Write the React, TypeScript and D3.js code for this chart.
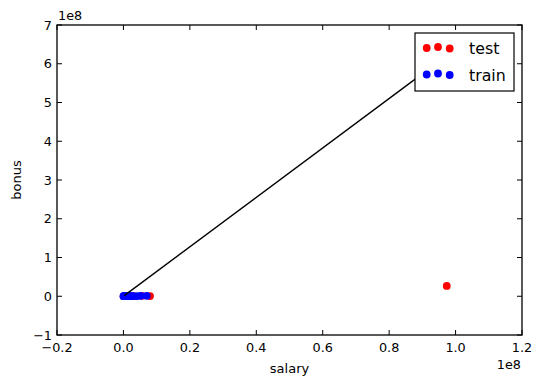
import React from "react";
import * as d3 from "d3";

const testX = [8000000, 5600000, 3100000, 1500000, 1000000, 800000, 600000, 400000, 250000, 97343619];
const testY = [339288, 1111258, 420636, 267102, 314288, 248546, 262788, 221003, 206121, 26704229];
const trainX = [7000000, 5249999, 4175000, 3000000, 2600000, 2000000, 1750000, 1200000, 900000, 700000, 500000, 300000, 100000, 0];
const trainY = [1072321, 1060932, 415189, 510364, 440698, 365163, 357091, 288542, 248017, 239671, 213999, 187922, 170941, 158403];
const regSlope = 6.38;
const regIntercept = 0;
const xTicks = [-0.2, 0.0, 0.2, 0.4, 0.6, 0.8, 1.0, 1.2];
const yTicks = [-1, 0, 1, 2, 3, 4, 5, 6, 7];
const legendLabels = ["test", "train"];
const legendColors = ["#ff0000", "#0000ff"];

const W = 543, H = 385;
const L = 57, R = 522, T = 25, B = 335;
const font = "DejaVu Sans, sans-serif";

export default function App() {
  const x = d3.scaleLinear().domain([-0.2e8, 1.2e8]).range([L, R]);
  const y = d3.scaleLinear().domain([-1e8, 7e8]).range([B, T]);
  const xs = d3.extent(testX) as [number, number];
  const line = d3.line<number>().x((v) => x(v)).y((v) => y(regSlope * v + regIntercept));
  const tl = 5;
  const lx = 415, ly = 33, lw = 99, lh = 58;
  const dotOffsets = [[426.7, 0.4], [438, 0.0], [449.7, 0.6]];
  return (
    <svg width={W} height={H} style={{ position: "absolute", left: 0, top: 0 }}>
      <rect x={0} y={0} width={W} height={H} fill="white" />
      {testX.map((v, i) => (
        <circle key={"te" + i} cx={x(v)} cy={y(testY[i])} r={3.9} fill="#ff0000" />
      ))}
      {trainX.map((v, i) => (
        <circle key={"tr" + i} cx={x(v)} cy={y(trainY[i])} r={3.9} fill="#0000ff" />
      ))}
      <path d={line(xs) || ""} stroke="black" strokeWidth={1.4} fill="none" />
      {xTicks.map((t) => (
        <g key={"x" + t}>
          <line x1={x(t * 1e8)} x2={x(t * 1e8)} y1={B} y2={B - tl} stroke="black" />
          <line x1={x(t * 1e8)} x2={x(t * 1e8)} y1={T} y2={T + tl} stroke="black" />
          <text x={x(t * 1e8)} y={352} textAnchor="middle" fontSize={12.8} fontFamily={font}>
            {t < 0 ? "\u2212" + Math.abs(t).toFixed(1) : t.toFixed(1)}
          </text>
        </g>
      ))}
      {yTicks.map((t) => (
        <g key={"y" + t}>
          <line x1={L} x2={L + tl} y1={y(t * 1e8)} y2={y(t * 1e8)} stroke="black" />
          <line x1={R} x2={R - tl} y1={y(t * 1e8)} y2={y(t * 1e8)} stroke="black" />
          <text x={52} y={y(t * 1e8)} dy="0.36em" textAnchor="end" fontSize={12.8} fontFamily={font}>
            {t < 0 ? "\u2212" + Math.abs(t) : String(t)}
          </text>
        </g>
      ))}
      <rect x={L} y={T} width={R - L} height={B - T} fill="none" stroke="black" strokeWidth={1.3} />
      <text x={58} y={20} fontSize={12.8} fontFamily={font}>1e8</text>
      <text x={521} y={369} textAnchor="end" fontSize={12.8} fontFamily={font}>1e8</text>
      <text x={(L + R) / 2} y={373} textAnchor="middle" fontSize={13} fontFamily={font}>salary</text>
      <text transform={`translate(21,${(T + B) / 2}) rotate(-90)`} textAnchor="middle" fontSize={13} fontFamily={font}>bonus</text>
      <rect x={lx} y={ly} width={lw} height={lh} fill="white" stroke="black" strokeWidth={1.2} />
      {legendLabels.map((lab, i) => (
        <g key={lab}>
          {dotOffsets.map(([dx, dy], j) => (
            <circle key={j} cx={dx} cy={ly + 15 + i * 26.5 + dy * 2.5 - 1} r={3.9} fill={legendColors[i]} />
          ))}
          <text x={469} y={ly + 21 + i * 26.5} fontSize={15.8} fontFamily={font}>{lab}</text>
        </g>
      ))}
    </svg>
  );
}
